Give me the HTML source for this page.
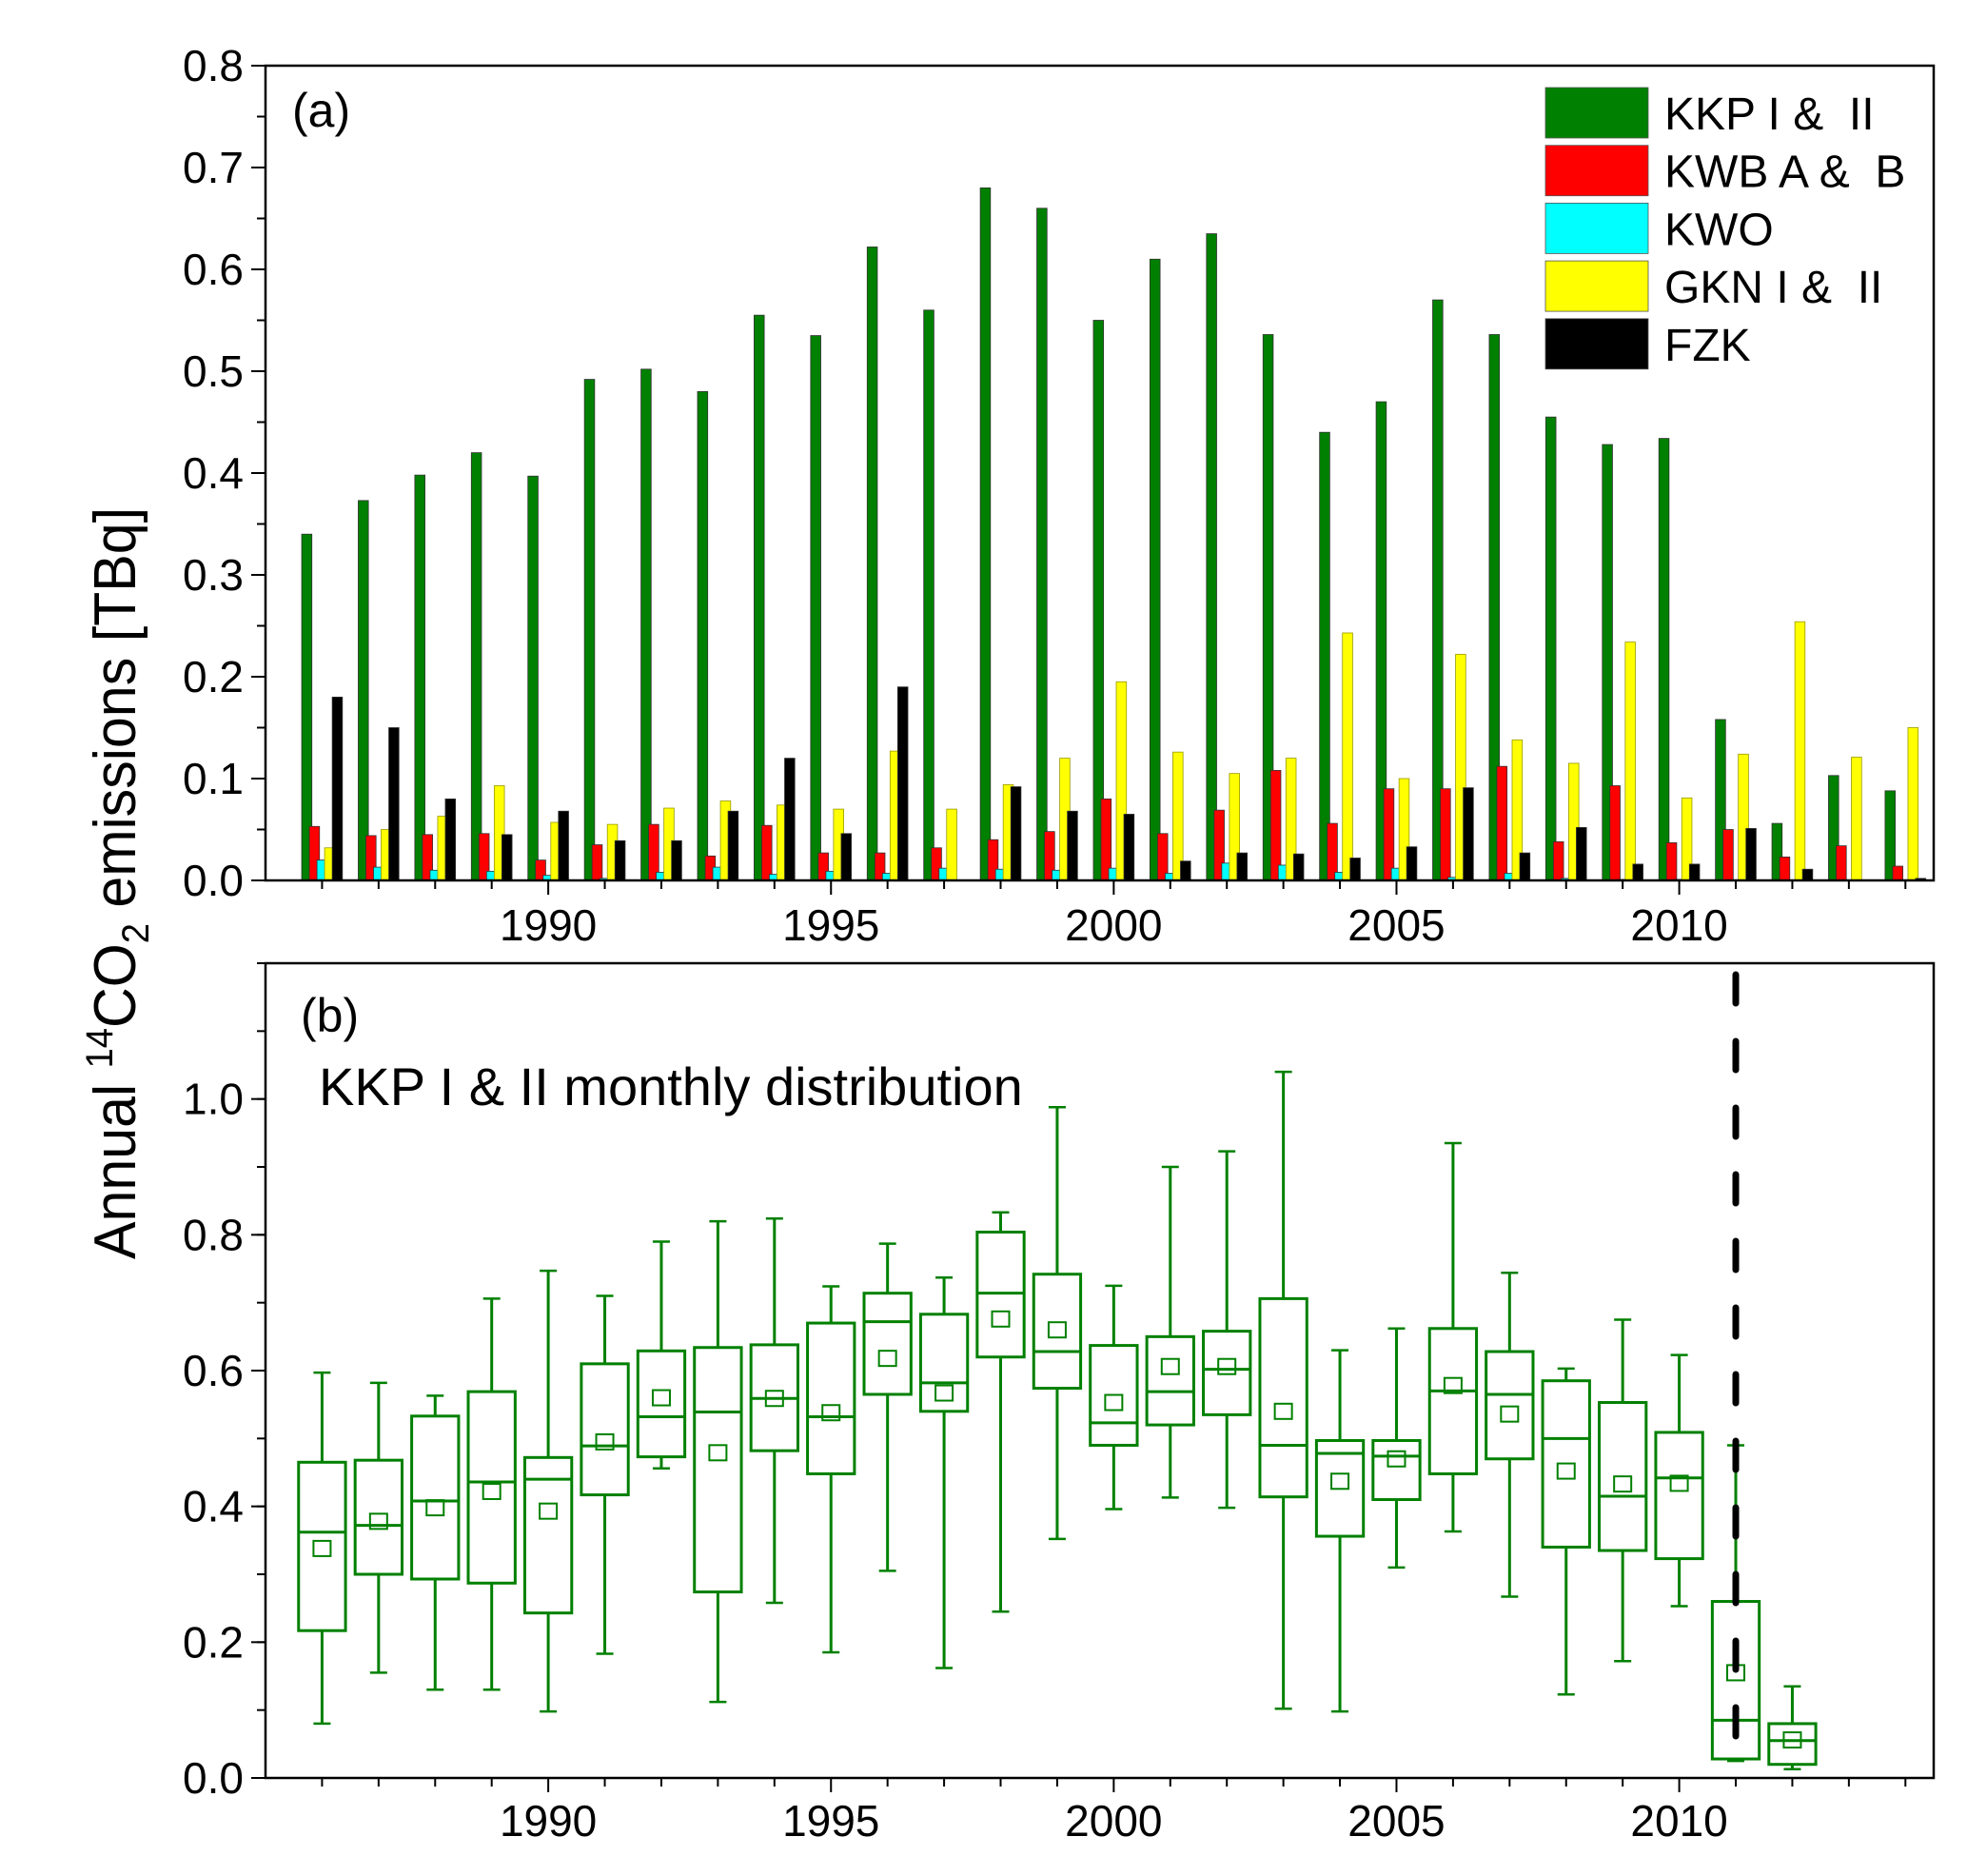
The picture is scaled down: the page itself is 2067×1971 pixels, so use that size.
<!DOCTYPE html>
<html><head><meta charset="utf-8"><style>
html,body{margin:0;padding:0;background:#fff;}
svg{display:block;font-family:"Liberation Sans",Arial,sans-serif;}
</style></head><body>
<svg id="chart" width="2067" height="1971" viewBox="0 0 2067 1971" xmlns="http://www.w3.org/2000/svg">
<g id="gtop"></g>
<g id="gbot"></g>
<text transform="translate(142,928) rotate(-90)" text-anchor="middle" font-size="62" textLength="790" lengthAdjust="spacingAndGlyphs">Annual <tspan font-size="40" dy="-24">14</tspan><tspan dy="24">CO</tspan><tspan font-size="40" dy="14">2</tspan><tspan dy="-14"> emissions [TBq]</tspan></text>
</svg>
<script>
const years = [1986,1987,1988,1989,1990,1991,1992,1993,1994,1995,1996,1997,1998,1999,2000,2001,2002,2003,2004,2005,2006,2007,2008,2009,2010,2011,2012,2013,2014];
const seriesNames = ["KKP I &  II","KWB A &  B","KWO","GKN I &  II","FZK"];
const seriesColors = ["#008000","#ff0000","#00ffff","#ffff00","#000000"];
const kkp = [0.34,0.373,0.398,0.42,0.397,0.492,0.502,0.48,0.555,0.535,0.622,0.56,0.68,0.66,0.55,0.61,0.635,0.536,0.44,0.47,0.57,0.536,0.455,0.428,0.434,0.158,0.056,0.103,0.088];
const kwb = [0.053,0.044,0.045,0.046,0.02,0.035,0.055,0.024,0.054,0.027,0.027,0.032,0.04,0.048,0.08,0.046,0.069,0.108,0.056,0.09,0.09,0.112,0.038,0.093,0.037,0.05,0.023,0.034,0.014];
const kwo = [0.02,0.013,0.01,0.009,0.005,0.002,0.008,0.013,0.006,0.009,0.007,0.012,0.011,0.01,0.012,0.007,0.017,0.015,0.008,0.012,0.003,0.007,0.002,0.001,0.001,0,0,0,0];
const gkn = [0.032,0.05,0.063,0.093,0.057,0.055,0.071,0.078,0.074,0.07,0.127,0.07,0.094,0.12,0.195,0.126,0.105,0.12,0.243,0.1,0.222,0.138,0.115,0.234,0.081,0.124,0.254,0.121,0.15];
const fzk = [0.18,0.15,0.08,0.045,0.068,0.039,0.039,0.068,0.12,0.046,0.19,0,0.092,0.068,0.065,0.019,0.027,0.026,0.022,0.033,0.091,0.027,0.052,0.016,0.016,0.051,0.011,0,0.002];
const boxYears = [1986,1987,1988,1989,1990,1991,1992,1993,1994,1995,1996,1997,1998,1999,2000,2001,2002,2003,2004,2005,2006,2007,2008,2009,2010,2011,2012];
const boxMin = [0.08,0.155,0.13,0.13,0.098,0.183,0.456,0.112,0.258,0.185,0.305,0.162,0.245,0.352,0.396,0.413,0.398,0.102,0.098,0.31,0.363,0.267,0.123,0.172,0.253,0.025,0.013];
const boxQ1 = [0.217,0.3,0.293,0.287,0.243,0.417,0.473,0.274,0.482,0.448,0.565,0.54,0.62,0.574,0.49,0.52,0.535,0.414,0.356,0.41,0.448,0.47,0.34,0.335,0.323,0.028,0.02];
const boxMed = [0.362,0.372,0.408,0.436,0.44,0.489,0.532,0.539,0.559,0.532,0.672,0.582,0.714,0.628,0.523,0.569,0.602,0.49,0.478,0.474,0.57,0.565,0.5,0.415,0.442,0.085,0.055];
const boxQ3 = [0.465,0.468,0.533,0.569,0.472,0.61,0.629,0.634,0.638,0.67,0.714,0.683,0.804,0.742,0.637,0.65,0.658,0.706,0.497,0.497,0.662,0.628,0.585,0.553,0.509,0.26,0.08];
const boxMax = [0.597,0.582,0.563,0.706,0.747,0.71,0.79,0.82,0.824,0.724,0.787,0.737,0.833,0.988,0.725,0.9,0.923,1.04,0.63,0.662,0.935,0.744,0.603,0.675,0.623,0.49,0.135];
const boxMean = [0.338,0.378,0.398,0.422,0.393,0.495,0.56,0.479,0.559,0.538,0.618,0.567,0.676,0.66,0.553,0.606,0.606,0.54,0.437,0.47,0.578,0.536,0.452,0.433,0.434,0.155,0.056];
const topTicks = ["0.0","0.1","0.2","0.3","0.4","0.5","0.6","0.7","0.8"];
const botTicks = ["0.0","0.2","0.4","0.6","0.8","1.0"];
const yearLabels = [1990,1995,2000,2005,2010];
const cutoffYear = 2011;

const NS="http://www.w3.org/2000/svg";
const X0=279, X1=2032, YR0=1985, YR1=2014.5;
const x = v => X0 + (v-YR0)/(YR1-YR0)*(X1-X0);
const PA = {top:69,bot:925,max:0.8};
const PB = {top:1012,bot:1868,max:1.2};
const ya = v => PA.bot - v/PA.max*(PA.bot-PA.top);
const yb = v => PB.bot - v/PB.max*(PB.bot-PB.top);
function mk(parent,tag,attrs){const e=document.createElementNS(NS,tag);for(const k in attrs)e.setAttribute(k,attrs[k]);parent.appendChild(e);return e;}
const gTop=document.getElementById('gtop'), gBot=document.getElementById('gbot');

function axes(g,P,yf,ticks,step,minorStep,prefix,labelY){
  const f=mk(g,'rect',{x:X0,y:P.top,width:X1-X0,height:P.bot-P.top,fill:'none',stroke:'#000','stroke-width':2.5});
  
  
  for(let v=0; v<=P.max+1e-9; v+=minorStep){
    const t=mk(g,'line',{x1:X0,x2:X0-9,y1:yf(v),y2:yf(v),stroke:'#000','stroke-width':2});
    
    
  }
  ticks.forEach((s,i)=>{
    const v=i*step;
    const t=mk(g,'line',{x1:X0,x2:X0-15,y1:yf(v),y2:yf(v),stroke:'#000','stroke-width':2});
    
    
    const l=mk(g,'text',{x:256,y:yf(v)+16,'text-anchor':'end','font-size':46});
    l.textContent=s;
    
    
  });
  for(let yr=1986; yr<=2014; yr++){
    const major=yr%5===0;
    const t=mk(g,'line',{x1:x(yr),x2:x(yr),y1:P.bot,y2:P.bot+(major?15:9),stroke:'#000','stroke-width':2});
    
    
  }
  yearLabels.forEach(yr=>{
    const l=mk(g,'text',{x:x(yr),y:labelY,'text-anchor':'middle','font-size':46});
    l.textContent=yr;
    
    
  });
}

const series=[kkp,kwb,kwo,gkn,fzk];
const keys=['kkp','kwb','kwo','gkn','fzk'];
const bw=0.18*(X1-X0)/(YR1-YR0);
series.forEach((arr,si)=>{
  arr.forEach((v,i)=>{
    if(v<=0) return;
    const cx=x(years[i]+(si-2)*0.135);
    const r=mk(gTop,'rect',{x:cx-bw/2,y:ya(v),width:bw,height:ya(0)-ya(v),fill:seriesColors[si],stroke:si===3?'#999900':'#333','stroke-width':0.8});
    
    
  });
});
axes(gTop,PA,ya,topTicks,0.1,0.05,'panel-a',988);
const la=mk(gTop,'text',{x:307,y:133,'font-size':50});
la.textContent='(a)';


seriesNames.forEach((n,i)=>{
  const yy=92+i*60.7;
  const s=mk(gTop,'rect',{x:1624,y:yy,width:108,height:53,fill:seriesColors[i],stroke:'#555','stroke-width':0.8});
  
  
  const t=mk(gTop,'text',{x:1749,y:yy+44,'font-size':48});
  t.setAttribute('style','white-space:pre');
  t.textContent=n;
  
  
});

axes(gBot,PB,yb,botTicks,0.2,0.1,'panel-b',1929);
const bxw=0.83*(X1-X0)/(YR1-YR0);
const G='#008000';
boxYears.forEach((yr,i)=>{
  const cx=x(yr);
  const g=mk(gBot,'g',{stroke:G,fill:'none','stroke-width':3});
  
  
  mk(g,'line',{x1:cx,x2:cx,y1:yb(boxMax[i]),y2:yb(boxQ3[i])});
  mk(g,'line',{x1:cx,x2:cx,y1:yb(boxQ1[i]),y2:yb(boxMin[i])});
  mk(g,'line',{x1:cx-9,x2:cx+9,y1:yb(boxMax[i]),y2:yb(boxMax[i]),'stroke-width':2.5});
  mk(g,'line',{x1:cx-9,x2:cx+9,y1:yb(boxMin[i]),y2:yb(boxMin[i]),'stroke-width':2.5});
  mk(g,'rect',{x:cx-bxw/2,y:yb(boxQ3[i]),width:bxw,height:yb(boxQ1[i])-yb(boxQ3[i])});
  mk(g,'line',{x1:cx-bxw/2,x2:cx+bxw/2,y1:yb(boxMed[i]),y2:yb(boxMed[i])});
  mk(g,'rect',{x:cx-9,y:yb(boxMean[i])-8,width:18,height:16,'stroke-width':2});
});
const dl=mk(gBot,'line',{x1:x(cutoffYear),x2:x(cutoffYear),y1:PB.top+12,y2:PB.bot-4,stroke:'#000','stroke-width':7,'stroke-dasharray':'30 40','stroke-linecap':'round'});


const lb=mk(gBot,'text',{x:316,y:1084,'font-size':50});
lb.textContent='(b)';


const tb=mk(gBot,'text',{x:335,y:1161,'font-size':56});
tb.textContent='KKP I & II monthly distribution';


</script>
</body></html>
